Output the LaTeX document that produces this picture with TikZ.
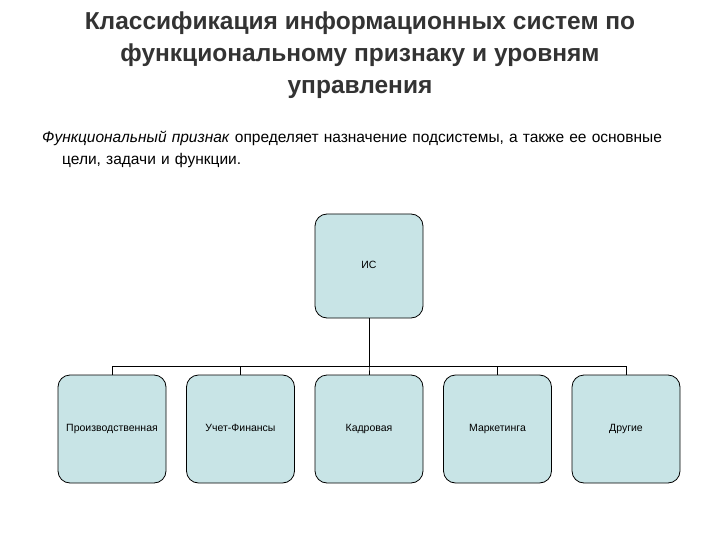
\documentclass[tikz,border=0pt]{standalone}
\usepackage{fontspec}
\setmainfont{Liberation Sans}
\definecolor{boxfill}{RGB}{200,228,230}
\tikzset{
  isbox/.style={draw,thick,fill=boxfill,rounded corners=12pt,minimum width=108pt,minimum height=108pt,font=\fontsize{10.5}{12}\selectfont,inner sep=0pt,text height=7pt,text depth=2pt},
}
\begin{document}
\begin{tikzpicture}[x=1pt,y=1pt,level distance=163pt,sibling distance=128.5pt,
    edge from parent/.style={draw,thick},
    edge from parent path={(\tikzparentnode.south) -- ++(0,-48) -| (\tikzchildnode.north)}]
    \useasboundingbox (0,0) rectangle (720,-540);
    \node[font=\fontsize{24.5}{32}\selectfont\bfseries,align=center,text=black!80] (title) at (360,-55)
        {Классификация информационных систем по\\функциональному признаку и уровням\\управления};
    \node[anchor=north west,font=\fontsize{15.5}{22}\selectfont,align=left,text width=690pt,inner sep=0pt] (intro) at (42,-131)
        {\textit{Функциональный признак} определяет назначение подсистемы, а также ее основные\\\hspace*{20pt}цели, задачи и функции.};
    \node[isbox,minimum height=104pt] (is) at (369,-266) {ИС}
        child {node[isbox] (prod) {Производственная}}
        child {node[isbox] (fin) {Учет-Финансы}}
        child {node[isbox] (kadr) {Кадровая}}
        child {node[isbox] (mark) {Маркетинга}}
        child {node[isbox] (other) {Другие}};
\end{tikzpicture}
\end{document}
